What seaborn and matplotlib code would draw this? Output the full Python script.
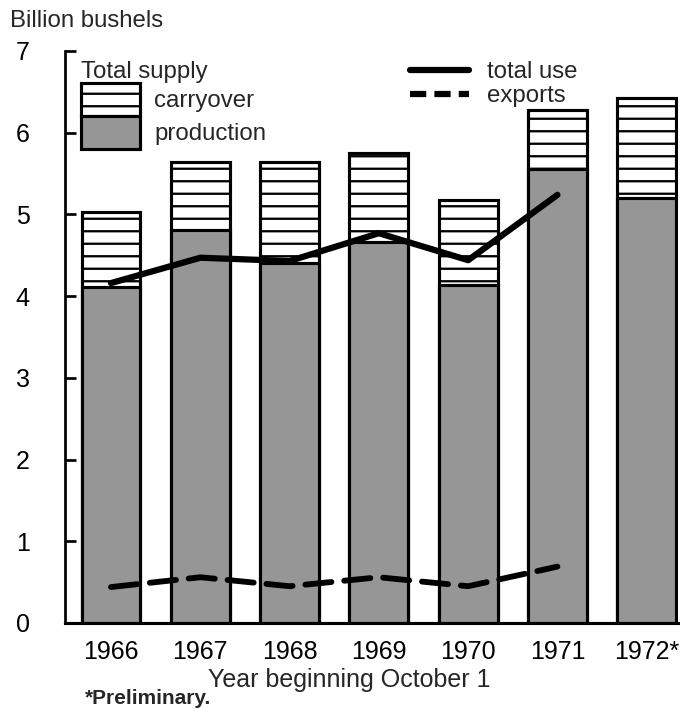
import matplotlib
matplotlib.use("Agg")
import matplotlib.pyplot as plt
import seaborn as sns
from matplotlib.patches import Patch
from matplotlib.lines import Line2D

# values (billion bushels)
years = ["1966", "1967", "1968", "1969", "1970", "1971", "1972*"]
total_supply = [5.03, 5.64, 5.64, 5.75, 5.18, 6.28, 6.43]
production = [4.11, 4.81, 4.41, 4.66, 4.14, 5.55, 5.20]
use_years = ["1966", "1967", "1968", "1969", "1970", "1971"]
total_use = [4.16, 4.47, 4.43, 4.77, 4.44, 5.24]
exports = [0.44, 0.56, 0.45, 0.56, 0.45, 0.69]

sns.set_theme(style="white")
plt.rcParams["font.family"] = ["Liberation Sans", "DejaVu Sans"]
plt.rcParams["hatch.linewidth"] = 1.1

DPI = 150
fig = plt.figure(figsize=(680 / DPI, 709 / DPI), dpi=DPI)
ax = fig.add_axes([65 / 680, 1 - 623 / 709, 613 / 680, 572 / 709])

fs = 11.5
edge = 1.5
gray = "#969696"

# carryover on top = full supply bar, production drawn over it
sns.barplot(x=years, y=total_supply, color="white", saturation=1, width=0.66,
            edgecolor="black", linewidth=edge, hatch="--", errorbar=None, ax=ax)
sns.barplot(x=years, y=production, color=gray, saturation=1, width=0.66,
            edgecolor="black", linewidth=edge, errorbar=None, ax=ax)

pos = list(range(len(use_years)))
sns.lineplot(x=pos, y=total_use, color="black", linewidth=3.0, ax=ax)
ax.plot(pos, exports, color="black", linewidth=2.8, dashes=(4.5, 2.2),
        solid_capstyle="round", dash_capstyle="round")

ax.set_xlim(-0.515, 6.35)
ax.set_ylim(0, 7)
ax.set_yticks(range(8))
ax.set_xlabel("")
ax.set_ylabel("")
sns.despine(ax=ax, top=True, right=True)
ax.spines["left"].set_linewidth(1.3)
ax.spines["bottom"].set_linewidth(1.5)
ax.spines["left"].set_color("black")
ax.spines["bottom"].set_color("black")
ax.tick_params(axis="y", direction="in", length=5.5, width=1.3, pad=17,
               labelsize=fs + 0.5, colors="black", left=True)
ax.tick_params(axis="x", length=0, pad=8, labelsize=fs + 0.5, colors="black")

# legends
leg1 = ax.legend(
    handles=[Patch(facecolor="white", edgecolor="black", hatch="--", linewidth=edge),
             Patch(facecolor=gray, edgecolor="black", linewidth=edge)],
    labels=["carryover", "production"], title="Total supply", alignment="left",
    loc="upper left", bbox_to_anchor=(81 / 680, 1 - 61 / 709),
    bbox_transform=fig.transFigure, frameon=False, fontsize=fs, title_fontsize=fs,
    handlelength=2.45, handleheight=1.74, labelspacing=0, handletextpad=0.6,
    borderpad=0, borderaxespad=0)
ax.add_artist(leg1)
ax.legend(
    handles=[Line2D([], [], color="black", linewidth=3.0),
             Line2D([], [], color="black", linewidth=3.0, dashes=(2.6, 1.3))],
    labels=["total use", "exports"], loc="upper left",
    bbox_to_anchor=(410 / 680, 1 - 61 / 709), bbox_transform=fig.transFigure,
    frameon=False, fontsize=fs, handlelength=2.45, handletextpad=0.75,
    labelspacing=0.1, borderpad=0, borderaxespad=0)

fig.text(10 / 680, 1 - 21 / 709, "Billion bushels", fontsize=fs, va="center")
fig.text(349 / 680, 1 - 680 / 709, "Year beginning October 1", fontsize=fs + 0.5,
         ha="center", va="center")
fig.text(85 / 680, 1 - 699 / 709, "*Preliminary.", fontsize=fs - 1.5,
         fontweight="bold", va="center")

fig.savefig("out.png", dpi=DPI, facecolor="white")
